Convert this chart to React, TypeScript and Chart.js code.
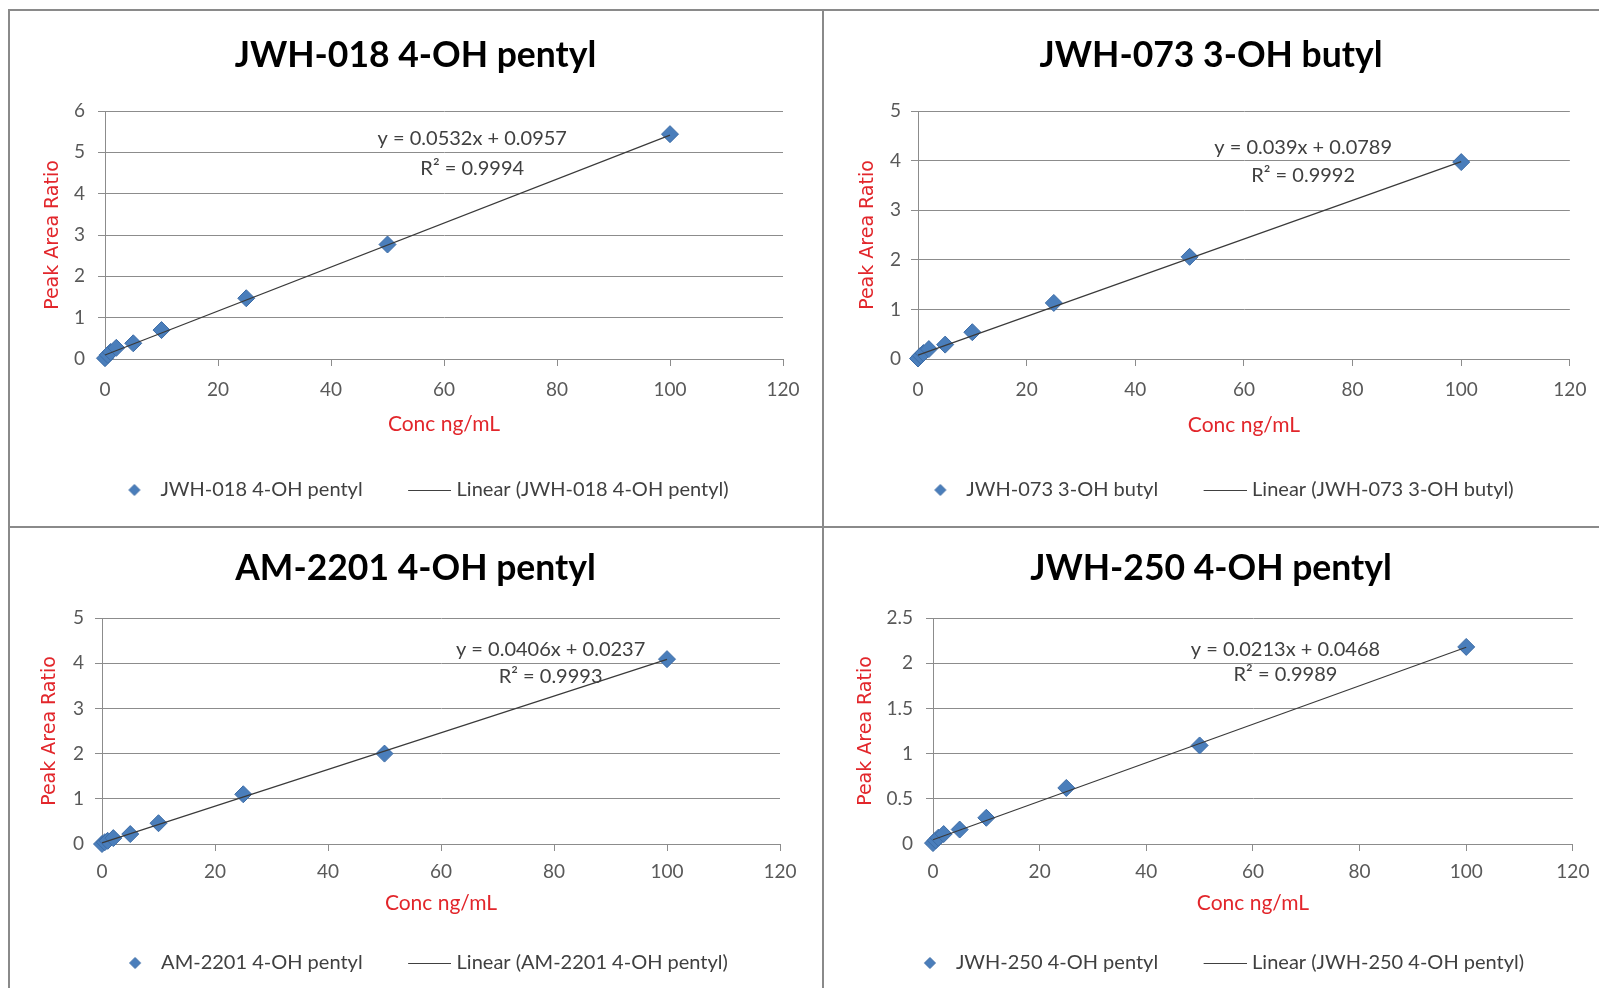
import React, { useEffect, useRef } from "react";
import { Chart, registerables } from "chart.js";

Chart.register(...registerables);

// ---------------- data ----------------
const concentrations = [0, 0.5, 1, 2, 5, 10, 25, 50, 100];

const jwh018Values = [0.02, 0.1, 0.17, 0.27, 0.38, 0.7, 1.47, 2.77, 5.44];
const jwh073Values = [0.01, 0.07, 0.12, 0.2, 0.29, 0.54, 1.13, 2.06, 3.97];
const am2201Values = [0.0, 0.04, 0.07, 0.13, 0.22, 0.46, 1.1, 2.0, 4.09];
const jwh250Values = [0.01, 0.04, 0.07, 0.11, 0.16, 0.29, 0.62, 1.09, 2.18];

const trendX = [0, 100];
const jwh018Trend = [0.0957, 5.4157];
const jwh073Trend = [0.0789, 3.9789];
const am2201Trend = [0.0237, 4.0837];
const jwh250Trend = [0.0468, 2.1768];

const xTickValues = [0, 20, 40, 60, 80, 100, 120];
const yTicks018 = [0, 1, 2, 3, 4, 5, 6];
const yTicks073 = [0, 1, 2, 3, 4, 5];
const yTicks2201 = [0, 1, 2, 3, 4, 5];
const yTicks250 = [0, 0.5, 1, 1.5, 2, 2.5];

const seriesNames = ["JWH-018 4-OH pentyl", "JWH-073 3-OH butyl", "AM-2201 4-OH pentyl", "JWH-250 4-OH pentyl"];
const equationTexts = ["y = 0.0532x + 0.0957", "y = 0.039x + 0.0789", "y = 0.0406x + 0.0237", "y = 0.0213x + 0.0468"];
const r2Texts = ["R\u00B2 = 0.9994", "R\u00B2 = 0.9992", "R\u00B2 = 0.9993", "R\u00B2 = 0.9989"];

const xAxisTitle = "Conc ng/mL";
const yAxisTitle = "Peak Area Ratio";

// ---------------- styles / layout ----------------
const FONT = "Lato, 'Open Sans', sans-serif";
const GRID = "#8c8c8c";
const TICK_COLOR = "#595959";
const RED = "#e2262b";
const MARKER = "#4a7ebb";
const MARKER_BORDER = "#3d6ca6";

type Layout = {
  left: number; top: number; w: number; h: number;
  chartL: number; chartR: number; chartT: number; chartB: number;
  titleY: number; xTickY: number; xTitleY: number; legendY: number;
  yTitleX: number; yGap: number;
  eqX: number; eqY1: number; eqY2: number;
};

const layouts: Layout[] = [
  { left: 8, top: 9, w: 815, h: 518, chartL: 97, chartR: 775, chartT: 102, chartB: 350, titleY: 47, xTickY: 381, xTitleY: 415, legendY: 481, yTitleX: 45, yGap: 20, eqX: 65, eqY1: 5.33, eqY2: 4.61 },
  { left: 823, top: 9, w: 776, h: 518, chartL: 95, chartR: 750.5, chartT: 102, chartB: 350, titleY: 47, xTickY: 381, xTitleY: 416, legendY: 481, yTitleX: 45, yGap: 17, eqX: 70.9, eqY1: 4.26, eqY2: 3.7 },
  { left: 8, top: 527, w: 815, h: 461, chartL: 94, chartR: 772, chartT: 91, chartB: 317, titleY: 42, xTickY: 345, xTitleY: 376.5, legendY: 436, yTitleX: 42, yGap: 18, eqX: 79.4, eqY1: 4.3, eqY2: 3.71 },
  { left: 823, top: 527, w: 776, h: 461, chartL: 110, chartR: 753, chartT: 91, chartB: 317, titleY: 42, xTickY: 345, xTitleY: 376.5, legendY: 436, yTitleX: 43, yGap: 20, eqX: 66.1, eqY1: 2.15, eqY2: 1.87 },
];

const panelData = [
  { values: jwh018Values, trend: jwh018Trend, yTicks: yTicks018 },
  { values: jwh073Values, trend: jwh073Trend, yTicks: yTicks073 },
  { values: am2201Values, trend: am2201Trend, yTicks: yTicks2201 },
  { values: jwh250Values, trend: jwh250Trend, yTicks: yTicks250 },
];

const TITLE_SIZE = 35.5;
const TICK_SIZE = 19;
const EQ_SIZE = 20;
const LEGEND_SIZE = 20;
const XTITLE_SIZE = 21;
const YTITLE_SIZE = 19;
const TICK_LEN = 7;
const LEGEND_PAD = 36;
const LEGEND_BOX = 48;

function makeDiamondImage(): HTMLCanvasElement {
  const c = document.createElement("canvas");
  c.width = 32; c.height = 14;
  const g = c.getContext("2d")!;
  const cx = 24, cy = 7, r = 5.5;
  g.beginPath();
  g.moveTo(cx - r, cy); g.lineTo(cx, cy - r); g.lineTo(cx + r, cy); g.lineTo(cx, cy + r);
  g.closePath();
  g.fillStyle = MARKER; g.fill();
  g.strokeStyle = MARKER_BORDER; g.lineWidth = 1; g.stroke();
  return c;
}

function makeLineImage(): HTMLCanvasElement {
  const c = document.createElement("canvas");
  c.width = 57; c.height = 4;
  const g = c.getContext("2d")!;
  g.strokeStyle = "#404040"; g.lineWidth = 1;
  g.beginPath(); g.moveTo(14, 2.5); g.lineTo(57, 2.5); g.stroke();
  return c;
}

const equationPlugin = {
  id: "equationLabel",
  afterDatasetsDraw(chart: any, _args: any, opts: any) {
    const { ctx } = chart;
    const xs = chart.scales.x, ys = chart.scales.y;
    ctx.save();
    ctx.font = `${EQ_SIZE}px ${FONT}`;
    ctx.fillStyle = "#404040";
    ctx.textAlign = "center";
    ctx.textBaseline = "middle";
    (opts.lines || []).forEach((l: any) => {
      ctx.fillText(l.text, xs.getPixelForValue(l.x), ys.getPixelForValue(l.y));
    });
    ctx.restore();
  },
};

function Panel({ index }: { index: number }) {
  const ref = useRef<HTMLCanvasElement>(null);
  const L = layouts[index];
  useEffect(() => {
    const d = panelData[index];
    const name = seriesNames[index];
    const diamondImg = makeDiamondImage();
    const lineImg = makeLineImage();

    const titleLH = TITLE_SIZE * 1.2;
    const legendTop = L.legendY - LEGEND_PAD - LEGEND_SIZE / 2;
    const legendBottom = legendTop + LEGEND_SIZE + LEGEND_PAD + 10;
    const xAxisH = legendTop - L.chartB;
    const yMax = d.yTicks[d.yTicks.length - 1];

    const chart = new Chart(ref.current!, {
      type: "scatter",
      data: {
        datasets: [
          {
            label: name,
            data: concentrations.map((c, i) => ({ x: c, y: d.values[i] })),
            pointStyle: "rectRot",
            pointRadius: 8.5,
            backgroundColor: MARKER,
            borderColor: MARKER_BORDER,
            borderWidth: 1,
            clip: false as any,
            order: 2,
          } as any,
          {
            label: `Linear (${name})`,
            data: trendX.map((c, i) => ({ x: c, y: d.trend[i] })),
            showLine: true,
            borderColor: "#3a3a3a",
            borderWidth: 1.2,
            pointRadius: 0,
            fill: false,
            clip: false as any,
            order: 1,
          } as any,
        ],
      },
      plugins: [equationPlugin as any],
      options: {
        animation: false,
        responsive: false,
        devicePixelRatio: 1,
        events: [],
        layout: { padding: { top: 0, left: 0, right: 0, bottom: L.h - legendBottom } },
        plugins: {
          tooltip: { enabled: false },
          title: {
            display: true,
            text: name,
            color: "#000000",
            font: { family: FONT, size: TITLE_SIZE, weight: "bold" },
            padding: { top: L.titleY - titleLH / 2, bottom: L.chartT - L.titleY - titleLH / 2 },
          },
          legend: {
            display: true,
            position: "bottom",
            labels: {
              usePointStyle: true,
              pointStyleWidth: LEGEND_BOX,
              padding: LEGEND_PAD,
              color: "#404040",
              font: { family: FONT, size: LEGEND_SIZE },
              generateLabels: (ch: any) => {
                const items = (Chart.defaults.plugins.legend.labels as any).generateLabels(ch);
                items.sort((a: any, b: any) => a.datasetIndex - b.datasetIndex);
                return items.map((it: any) => ({
                  ...it,
                  pointStyle: it.datasetIndex === 0 ? diamondImg : lineImg,
                  fontColor: "#404040",
                }));
              },
            },
          },
          equationLabel: {
            lines: [
              { text: equationTexts[index], x: L.eqX, y: L.eqY1 },
              { text: r2Texts[index], x: L.eqX, y: L.eqY2 },
            ],
          },
        } as any,
        scales: {
          x: {
            type: "linear",
            min: 0,
            max: 120,
            afterBuildTicks: (s: any) => { s.ticks = xTickValues.map((v) => ({ value: v })); },
            afterFit: (s: any) => { s.height = xAxisH; },
            grid: { drawOnChartArea: false, drawTicks: true, tickLength: TICK_LEN, color: GRID },
            border: { display: true, color: GRID, width: 1 },
            ticks: {
              padding: L.xTickY - L.chartB - TICK_LEN - (TICK_SIZE * 1.2) / 2,
              font: { family: FONT, size: TICK_SIZE },
              color: TICK_COLOR,
              maxRotation: 0,
              autoSkip: false,
              callback: (v: any) => String(v),
            },
            title: {
              display: true,
              text: xAxisTitle,
              color: RED,
              font: { family: FONT, size: XTITLE_SIZE },
              padding: { top: 0, bottom: legendTop - L.xTitleY - (XTITLE_SIZE * 1.2) / 2 },
            },
          },
          y: {
            type: "linear",
            min: 0,
            max: yMax,
            afterBuildTicks: (s: any) => { s.ticks = d.yTicks.map((v) => ({ value: v })); },
            afterFit: (s: any) => { s.width = L.chartL; },
            grid: { drawTicks: true, tickLength: TICK_LEN, color: GRID },
            border: { display: true, color: GRID, width: 1 },
            ticks: {
              padding: L.yGap - TICK_LEN,
              font: { family: FONT, size: TICK_SIZE },
              color: TICK_COLOR,
              callback: (v: any) => String(v),
            },
            title: {
              display: true,
              text: yAxisTitle,
              color: RED,
              font: { family: "'DejaVu Sans', sans-serif", size: YTITLE_SIZE },
              padding: { top: L.yTitleX - (YTITLE_SIZE * 1.2) / 2, bottom: 0 },
            },
          },
          yr: {
            type: "linear",
            position: "right",
            display: true,
            grid: { display: false },
            border: { display: false },
            ticks: { display: false },
            afterFit: (s: any) => { s.width = L.w - L.chartR; },
          },
        } as any,
      },
    });
    return () => chart.destroy();
  }, [index]);

  return (
    <canvas
      ref={ref}
      width={L.w}
      height={L.h}
      style={{ position: "absolute", left: L.left, top: L.top, width: L.w, height: L.h }}
    />
  );
}

const lineStyle = (s: React.CSSProperties): React.CSSProperties => ({
  position: "absolute",
  background: "#8a8a8a",
  zIndex: 2,
  ...s,
});

export default function App() {
  return (
    <div style={{ position: "absolute", left: 0, top: 0, width: 1599, height: 988, background: "#ffffff", overflow: "hidden" }}>
      {[0, 1, 2, 3].map((i) => (
        <Panel key={i} index={i} />
      ))}
      <div style={lineStyle({ left: 8, top: 9, width: 1591, height: 2 })} />
      <div style={lineStyle({ left: 8, top: 9, width: 2, height: 979 })} />
      <div style={lineStyle({ left: 822, top: 9, width: 2, height: 979 })} />
      <div style={lineStyle({ left: 8, top: 526, width: 1591, height: 2 })} />
    </div>
  );
}
